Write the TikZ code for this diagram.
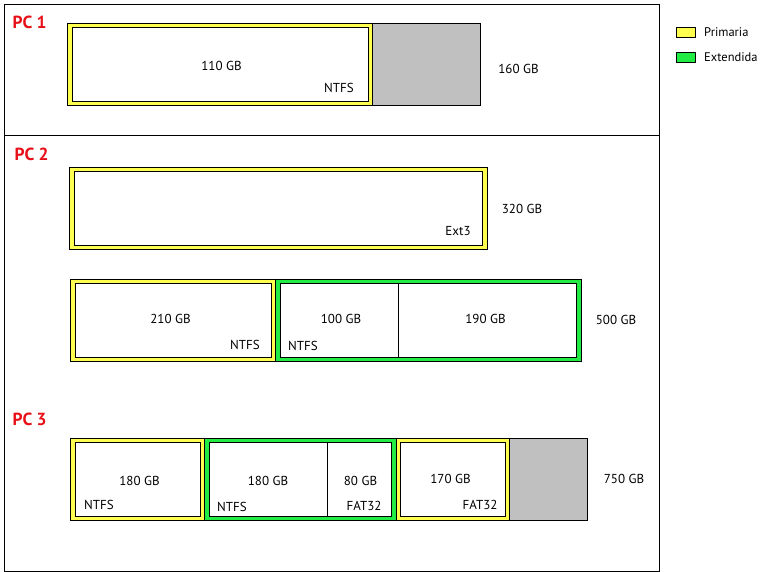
\documentclass[tikz,border=0pt]{standalone}
\usepackage{fontspec}
\setmainfont{PT Sans}
\usepackage{xcolor}
\usepackage{tikz}
\usetikzlibrary{positioning}
\definecolor{prim}{RGB}{255,255,80}
\definecolor{ext}{RGB}{34,236,68}
\definecolor{libre}{RGB}{192,192,192}
\definecolor{pcred}{RGB}{232,16,24}
\tikzstyle{frame}=[draw, line width=0.9pt]
\tikzstyle{band}=[draw, line width=0.9pt]
\tikzstyle{vol}=[draw, fill=white, line width=0.9pt]
\tikzstyle{lbl}=[inner sep=0pt, font=\fontsize{13}{15}\selectfont]
\tikzstyle{pc}=[inner sep=0pt, anchor=west, text=pcred, font=\bfseries\fontsize{17.5}{20}\selectfont]
\tikzstyle{key}=[inner sep=0pt, anchor=base west, font=\fontsize{12.5}{14}\selectfont]

\begin{document}
\begin{tikzpicture}[x=1pt, y=-1pt]
		\useasboundingbox (0,0) rectangle (778,572);
		\draw[frame] (4,4) rectangle (659,135);
		\draw[frame] (4,135) rectangle (659,571);
		% PC 1
		\node[pc] (pc1) at (12.5,22.5) {PC 1};
		\draw[band, fill=prim] (67,23) rectangle (372,105);
		\draw[vol] (72,27) rectangle (368,101);
		\draw[band, fill=libre] (372,23) rectangle (480,105);
		\node[lbl] (a110) at (221.5,65.5) {110 GB};
		\node[lbl] (afs) at (339,87.5) {NTFS};
		\node[lbl] (a160) at (518.5,69) {160 GB};
		% PC 2
		\node[pc] (pc2) at (14.5,154.5) {PC 2};
		\draw[band, fill=prim] (69,167) rectangle (487,249);
		\draw[vol] (74,171) rectangle (482,245);
		\node[lbl] (bfs) at (458,231.5) {Ext3};
		\node[lbl] (b320) at (522,209) {320 GB};
		\draw[band, fill=prim] (70,279) rectangle (275,361);
		\draw[vol] (75,283) rectangle (271,357);
		\draw[band, fill=ext] (275,279) rectangle (581,361);
		\draw[vol] (280,283) rectangle (576,357);
		\draw[line width=0.9pt] (398,283) -- (398,357);
		\node[lbl] (c210) at (170.5,319) {210 GB};
		\node[lbl] (cfs1) at (245,344.5) {NTFS};
		\node[lbl] (c100) at (341,319) {100 GB};
		\node[lbl] (cfs2) at (303,345.5) {NTFS};
		\node[lbl] (c190) at (485.5,319) {190 GB};
		\node[lbl] (c500) at (616,320) {500 GB};
		% PC 3
		\node[pc] (pc3) at (12.5,419.5) {PC 3};
		\draw[band, fill=prim] (70,438) rectangle (204,520);
		\draw[vol] (75,442) rectangle (200,516);
		\draw[band, fill=ext] (204,438) rectangle (396,520);
		\draw[vol] (209,442) rectangle (391,516);
		\draw[line width=0.9pt] (327,442) -- (327,516);
		\draw[band, fill=prim] (396,438) rectangle (509,520);
		\draw[vol] (400,442) rectangle (505,516);
		\draw[band, fill=libre] (509,438) rectangle (587,520);
		\node[lbl] (d180a) at (139.5,481) {180 GB};
		\node[lbl] (dfs1) at (99,504.5) {NTFS};
		\node[lbl] (d180b) at (268,481) {180 GB};
		\node[lbl] (dfs2) at (232,506.5) {NTFS};
		\node[lbl] (d80) at (360.5,481) {80 GB};
		\node[lbl] (dfs3) at (364,505.5) {FAT32};
		\node[lbl] (d170) at (450.5,479) {170 GB};
		\node[lbl] (dfs4) at (480,504.5) {FAT32};
		\node[lbl] (d750) at (624,478.5) {750 GB};
		% leyenda
		\draw[band, fill=prim] (676,27) rectangle (695,37);
		\node[key] (kprim) at (704,36.5) {Primaria};
		\draw[band, fill=ext] (676,52) rectangle (695,62);
		\node[key] (kext) at (704,61.5) {Extendida};
	\end{tikzpicture}
\end{document}
